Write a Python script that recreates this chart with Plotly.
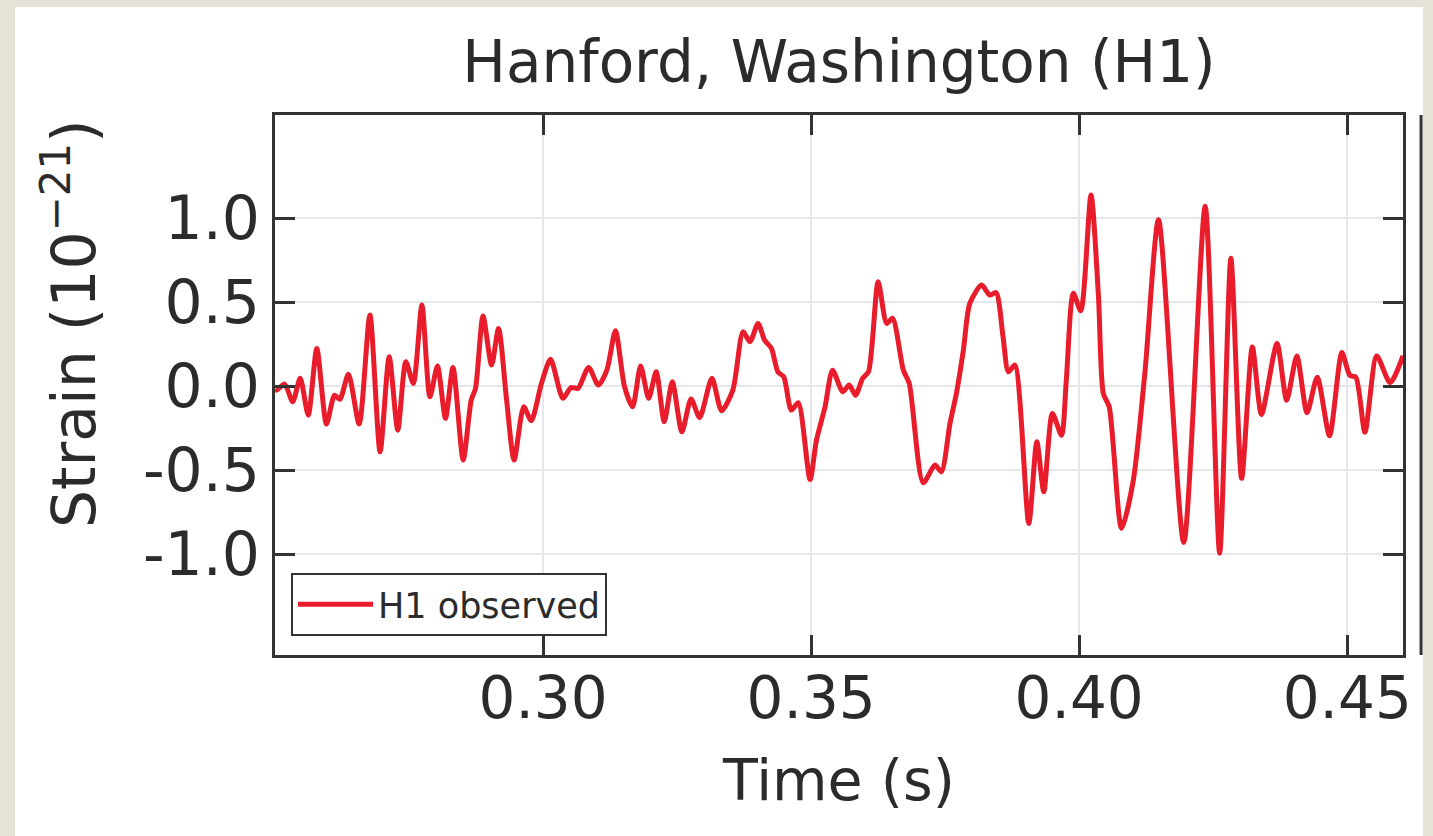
import plotly.graph_objects as go

# Time (s) and strain (1e-21)
time_s = [
    0.2500, 0.2503, 0.2518, 0.2533, 0.2547, 0.2562, 0.2578, 0.2596, 0.2611, 0.2621,
    0.2637, 0.2657, 0.2677, 0.2696, 0.2713, 0.2729, 0.2744, 0.2758, 0.2774, 0.2789,
    0.2803, 0.2818, 0.2832, 0.2851, 0.2866, 0.2874, 0.2888, 0.2904, 0.2917, 0.2932,
    0.2946, 0.2964, 0.2978, 0.2997, 0.3014, 0.3037, 0.3052, 0.3065, 0.3085, 0.3103,
    0.3119, 0.3135, 0.3152, 0.3167, 0.3182, 0.3197, 0.3211, 0.3226, 0.3241, 0.3259,
    0.3276, 0.3292, 0.3315, 0.3333, 0.3354, 0.3373, 0.3386, 0.3401, 0.3413, 0.3426,
    0.3438, 0.3449, 0.3463, 0.3476, 0.3498, 0.3510, 0.3526, 0.3540, 0.3559, 0.3571,
    0.3583, 0.3596, 0.3607, 0.3625, 0.3641, 0.3652, 0.3672, 0.3683, 0.3709, 0.3731,
    0.3743, 0.3759, 0.3771, 0.3784, 0.3796, 0.3818, 0.3833, 0.3845, 0.3858, 0.3868,
    0.3880, 0.3906, 0.3921, 0.3934, 0.3950, 0.3967, 0.3976, 0.3989, 0.4003, 0.4022,
    0.4036, 0.4045, 0.4056, 0.4079, 0.4101, 0.4123, 0.4148, 0.4195, 0.4235, 0.4262,
    0.4283, 0.4303, 0.4323, 0.4340, 0.4369, 0.4387, 0.4406, 0.4425, 0.4444, 0.4467,
    0.4490, 0.4505, 0.4516, 0.4533, 0.4555, 0.4580, 0.4604,
]
strain = [
    -0.020, -0.024, 0.012, -0.093, 0.046, -0.173, 0.224, -0.226, -0.054, -0.079,
    0.071, -0.226, 0.423, -0.391, 0.175, -0.262, 0.145, 0.016, 0.482, -0.064,
    0.119, -0.192, 0.111, -0.440, -0.083, -0.014, 0.417, 0.125, 0.343, -0.083,
    -0.440, -0.123, -0.206, 0.016, 0.159, -0.073, -0.008, -0.014, 0.111, 0.006,
    0.095, 0.329, -0.004, -0.123, 0.119, -0.073, 0.085, -0.212, 0.026, -0.272,
    -0.077, -0.187, 0.046, -0.147, -0.024, 0.323, 0.264, 0.373, 0.274, 0.224,
    0.085, 0.055, -0.143, -0.099, -0.556, -0.321, -0.123, 0.095, -0.034, 0.006,
    -0.054, 0.046, 0.085, 0.621, 0.373, 0.403, 0.095, 0.016, -0.575, -0.470,
    -0.510, -0.222, -0.044, 0.214, 0.492, 0.601, 0.542, 0.556, 0.293, 0.085,
    0.125, -0.817, -0.331, -0.629, -0.163, -0.292, 0.036, 0.552, 0.448, 1.137,
    0.532, -0.044, -0.123, -0.847, -0.560, 0.095, 0.990, -0.930, 1.070, -0.994,
    0.760, -0.549, 0.232, -0.169, 0.253, -0.084, 0.179, -0.158, 0.053, -0.295,
    0.200, 0.063, 0.053, -0.274, 0.179, 0.021, 0.180,
]

x_ticks = [0.30, 0.35, 0.40, 0.45]
x_tick_labels = ["0.30", "0.35", "0.40", "0.45"]
y_ticks = [-1.0, -0.5, 0.0, 0.5, 1.0]
y_tick_labels = ["-1.0", "-0.5", "0.0", "0.5", "1.0"]

FONT = "DejaVu Sans"
INK = "#2b2b2b"
FRAME = "#333333"
RED = "#E81C2A"

fig = go.Figure()
fig.add_trace(go.Scatter(
    x=time_s, y=strain, mode="lines", name="H1 observed",
    line=dict(color=RED, width=5, shape="spline", smoothing=0.7),
))

axis_common = dict(
    showline=True, linecolor=FRAME, linewidth=3, mirror="ticks",
    ticks="inside", ticklen=20, tickwidth=3, tickcolor=FRAME,
    showgrid=True, gridcolor="#E4E7EC", gridwidth=1.5,
    zeroline=False,
)

fig.update_layout(
    width=1433, height=836,
    margin=dict(l=275, r=30, t=115, b=181),
    paper_bgcolor="#E7E2D6", plot_bgcolor="white",
    title=dict(text="Hanford, Washington (H1)", x=(839 - 275) / 1128, xref="paper",
               xanchor="center", y=1 - 62 / 836, yanchor="middle",
               font=dict(family=FONT, size=58, color=INK)),
    xaxis=dict(range=[0.25, 0.4604], tickvals=x_ticks, ticktext=x_tick_labels,
               ticklabelstandoff=-10,
               tickfont=dict(family=FONT, size=58, color=INK),
               title=dict(text="Time (s)", font=dict(family=FONT, size=57, color=INK),
                          standoff=30),
               **axis_common),
    yaxis=dict(range=[-1.60, 1.613], tickvals=y_ticks, ticktext=y_tick_labels,
               tickfont=dict(family=FONT, size=60, color=INK),
               **axis_common),
    showlegend=True,
    legend=dict(x=0.0142, y=0.035, xanchor="left", yanchor="bottom",
                bgcolor="white", bordercolor=FRAME, borderwidth=2,
                itemwidth=75,
                font=dict(family=FONT, size=35, color=INK)),
    shapes=[
        dict(type="rect", xref="paper", yref="paper", x0=-0.2305, x1=1.0177,
             y0=-0.34, y1=1.2, fillcolor="white", line=dict(width=0), layer="below"),
        dict(type="line", xref="paper", yref="paper", x0=1.016, x1=1.016,
             y0=0, y1=1, line=dict(color=FRAME, width=3)),
    ],
    annotations=[
        dict(text="Strain (10<sup>−21</sup>)", xref="paper", yref="paper",
             x=(70 - 275) / 1128, y=(655 - 324) / 540, textangle=-90,
             showarrow=False, xanchor="center", yanchor="middle",
             font=dict(family=FONT, size=60, color=INK)),
    ],
)

fig.write_html("out.html", config={"displayModeBar": False},
               post_script="document.body.style.margin='0';document.body.style.overflow='hidden';")
